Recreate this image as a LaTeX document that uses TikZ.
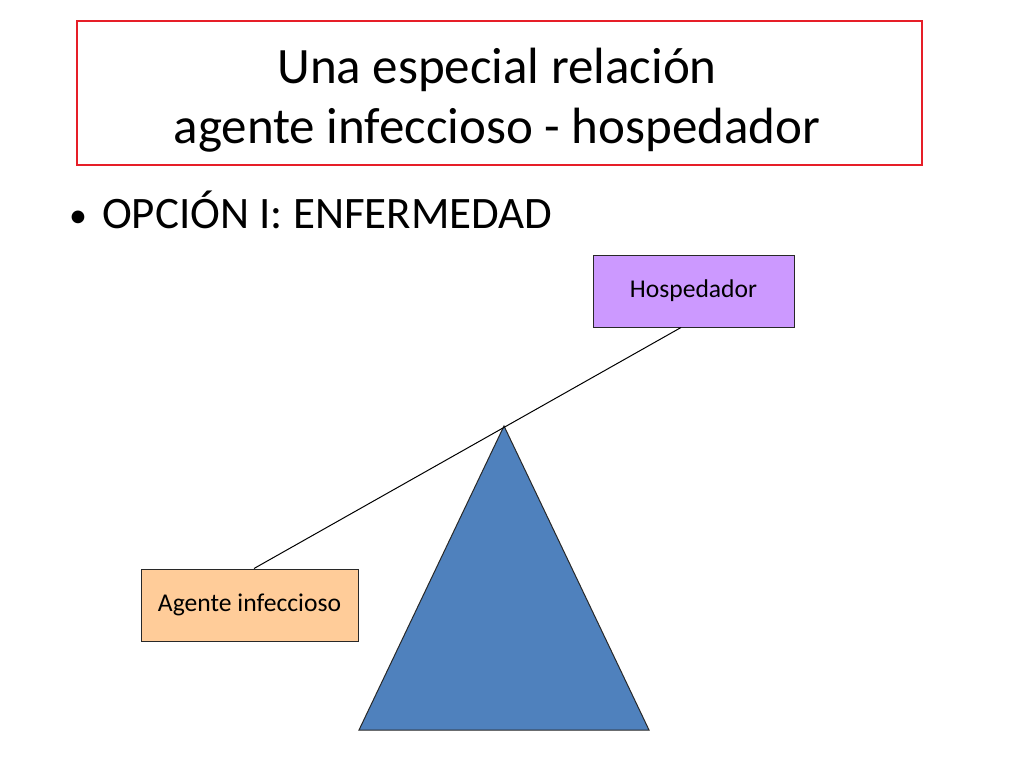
\documentclass[tikz,border=0pt]{standalone}
\usepackage{fontspec}
\setmainfont{Carlito}
\usetikzlibrary{calc}
\definecolor{titlered}{RGB}{230,30,40}
\definecolor{hospfill}{RGB}{204,153,255}
\definecolor{agentfill}{RGB}{255,204,153}
\definecolor{trifill}{RGB}{79,129,189}
\definecolor{edge}{RGB}{40,40,40}
\tikzset{
  box/.style={draw=edge, line width=1pt, inner sep=0pt, minimum height=72pt, font=\fontsize{25.6}{30}\selectfont},
}
\begin{document}
\begin{tikzpicture}[x=1pt,y=-1pt]
\useasboundingbox (0,0) rectangle (1024,768);
\fill[white] (0,0) rectangle (1024,768);
% title
\node[draw=titlered, line width=2pt, minimum width=845pt, minimum height=144pt, inner sep=0pt] (title) at (499.5,93) {};
\node[anchor=base, inner sep=0pt, align=center, font=\fontsize{51}{60}\selectfont] (titletext) at (497,143) {Una especial relación\\agente infeccioso - hospedador};
% bullet
\node[anchor=base, inner sep=0pt, font=\fontsize{36}{40}\selectfont] (dot) at (78,227) {\textbullet};
\node[anchor=base west, inner sep=0pt, font=\fontsize{45}{50}\selectfont] (bullet) at (102,228) {OPCIÓN I: ENFERMEDAD};
% boxes
\node[box, fill=hospfill, minimum width=201pt] (hosp) at (693.5,291) {Hospedador};
\node[box, fill=agentfill, minimum width=217pt] (agent) at (249.5,605) {Agente infeccioso};
% triangle
\coordinate (apex) at (504,426);
\coordinate (bl) at (359,730);
\coordinate (br) at (649,730);
\draw[edge, line width=1pt, fill=trifill, line join=miter] (apex) -- (br) -- (bl) -- cycle;
% lever
\coordinate (lt) at ($(hosp.south)+(-12.5,0)$);
\coordinate (lb) at ($(agent.north)+(4.5,0)$);
\draw[black, line width=1pt] (lt) -- (lb);
\end{tikzpicture}
\end{document}
